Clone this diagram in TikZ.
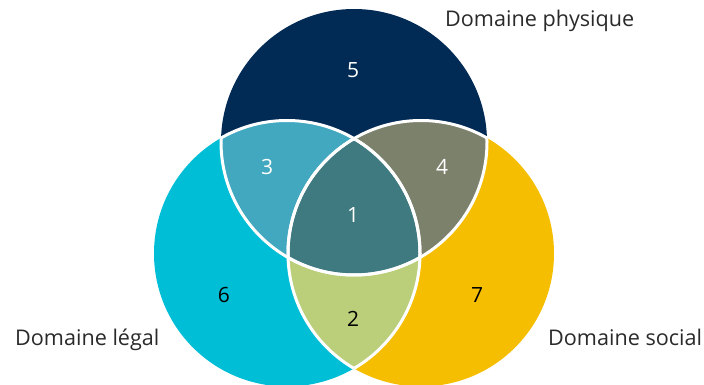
\documentclass[tikz,border=0pt]{standalone}
\usepackage{fontspec}
\setmainfont{Open Sans}
\definecolor{navy}{HTML}{012A55}
\definecolor{cyanc}{HTML}{00BED6}
\definecolor{goldc}{HTML}{F5BE00}
\definecolor{tl}{HTML}{42A8BF}
\definecolor{tr}{HTML}{7C816C}
\definecolor{lr}{HTML}{BBCE7A}
\definecolor{tlr}{HTML}{3E7A80}
\definecolor{labelgray}{HTML}{2A2A2A}
\begin{document}
\begin{tikzpicture}[x=1pt,y=-1pt,
  lbl/.style={font=\fontsize{21.6}{24}\selectfont, text=labelgray, anchor=base west, inner sep=0pt},
  num/.style={font=\fontsize{21}{24}\selectfont, inner sep=0pt},
  sep/.style={draw=white, line width=3pt}]
\useasboundingbox (0,0) rectangle (704,385);
\coordinate (T) at (354,142);
\coordinate (L) at (287,253.5);
\coordinate (R) at (421,253.5);
\def\rad{133pt}
% base circles
\fill[cyanc] (L) circle[radius=\rad];
\fill[goldc] (R) circle[radius=\rad];
\fill[navy] (T) circle[radius=\rad];
% pairwise intersections
\begin{scope}\clip (T) circle[radius=\rad]; \fill[tl] (L) circle[radius=\rad]; \end{scope}
\begin{scope}\clip (T) circle[radius=\rad]; \fill[tr] (R) circle[radius=\rad]; \end{scope}
\begin{scope}\clip (L) circle[radius=\rad]; \fill[lr] (R) circle[radius=\rad]; \end{scope}
\begin{scope}\clip (T) circle[radius=\rad]; \clip (L) circle[radius=\rad]; \fill[tlr] (R) circle[radius=\rad]; \end{scope}
% white separators (internal arcs only)
\begin{scope}\clip (L) circle[radius=\rad]; \draw[sep] (T) circle[radius=\rad]; \draw[sep] (R) circle[radius=\rad]; \end{scope}
\begin{scope}\clip (R) circle[radius=\rad]; \draw[sep] (T) circle[radius=\rad]; \draw[sep] (L) circle[radius=\rad]; \end{scope}
\begin{scope}\clip (T) circle[radius=\rad]; \draw[sep] (L) circle[radius=\rad]; \draw[sep] (R) circle[radius=\rad]; \end{scope}
% numbers
\node[num, text=white] (n5) at (353,70) {5};
\node[num, text=white] (n3) at (267,167) {3};
\node[num, text=white] (n4) at (442,167) {4};
\node[num, text=white] (n1) at (353,215) {1};
\node[num, text=black] (n6) at (224,295) {6};
\node[num, text=black] (n7) at (477,295) {7};
\node[num, text=black] (n2) at (353,319) {2};
% labels
\node[lbl] (phys) at (445,27) {Domaine physique};
\node[lbl] (legal) at (15,345) {Domaine légal};
\node[lbl] (social) at (548,345) {Domaine social};
\end{tikzpicture}
\end{document}
